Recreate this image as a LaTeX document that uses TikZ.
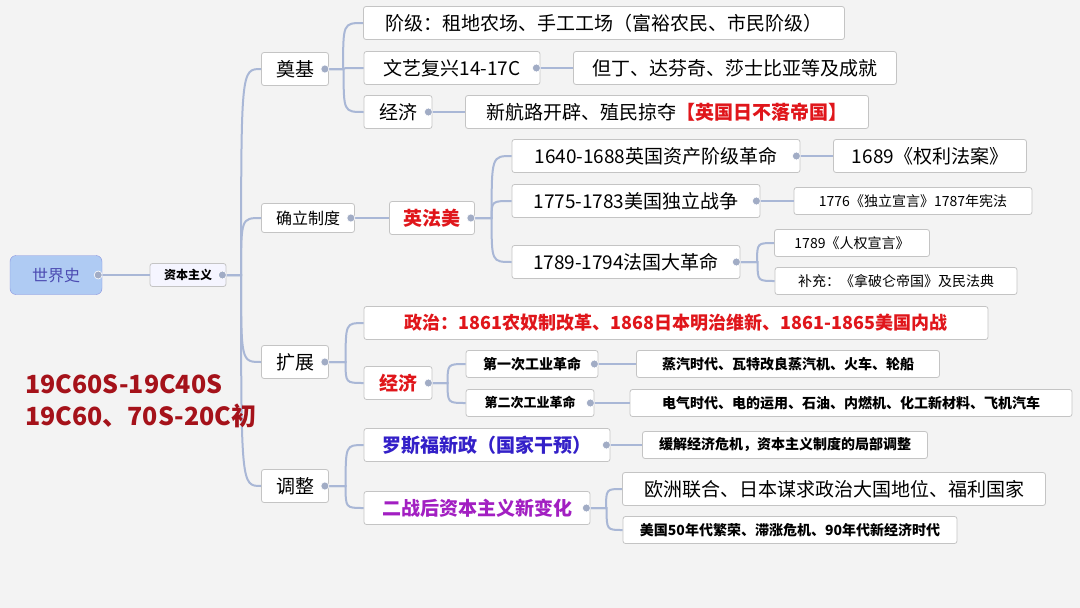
\documentclass[tikz,border=0pt]{standalone}
\usepackage{fontspec}
\setmainfont{Noto Sans CJK SC}
\usetikzlibrary{calc}
\definecolor{bg}{HTML}{F3F3F3}
\definecolor{bd}{HTML}{C4C4C4}
\definecolor{ln}{HTML}{A9B7D6}
\definecolor{rd}{HTML}{E0161B}
\definecolor{bl}{HTML}{3320C8}
\definecolor{pu}{HTML}{A21FC2}
\definecolor{dr}{HTML}{A5121A}
\definecolor{root}{HTML}{AFCBF3}
\tikzset{
 bx/.style n args={3}{draw=bd,fill=white,rounded corners=2.5pt,line width=0.8pt,minimum width=#1,minimum height=#2,inner sep=0pt,font=#3},
 big/.style={bx={#1}{33pt}{\fontsize{19}{22}\selectfont}},
 mid/.style={bx={#1}{29pt}{\fontsize{16}{19}\selectfont}},
 sm/.style={bx={#1}{27pt}{\fontsize{14}{17}\selectfont}},
 smb/.style={bx={#1}{27pt}{\fontsize{14}{17}\selectfont\bfseries}},
 conn/.style={draw=ln,line width=2pt},
 mn/.style={circle,fill=ln!80!gray,draw=white,line width=0.6pt,minimum size=8pt,inner sep=0pt},
}
\newcommand{\cn}[3]{\draw[conn] let \p1=(#1.east), \p2=(#2.west) in (\p1) -- (\x2-#3,\y1) .. controls (\x2-#3,\y2) .. (\p2);}
\begin{document}
\begin{tikzpicture}[x=1pt,y=-1pt]
\fill[bg] (0,0) rectangle (1080,608);
\useasboundingbox (0,0) rectangle (1080,608);
\node[draw=ln!80!blue,fill=root,rounded corners=6pt,minimum width=92pt,minimum height=39pt,inner sep=0pt,text=blue!40!gray,font=\fontsize{16}{19}\selectfont] (r) at (56,275) {世界史};
\node[bx={76pt}{23pt}{\fontsize{12}{14}\selectfont\bfseries},fill=blue!4] (zb) at (188,275) {资本主义};
\node[big=67pt] (dj) at (295,69) {奠基};
\node[mid=93pt] (ql) at (308,218) {确立制度};
\node[big=67pt] (kz) at (295,362) {扩展};
\node[big=67pt] (tz) at (295,486) {调整};
\node[big=481pt] (jj) at (604,23) {阶级：租地农场、手工工场（富裕农民、市民阶级）};
\node[big=176pt] (wy) at (452,68) {文艺复兴14-17C};
\node[big=323pt] (dd) at (735,68) {但丁、达芬奇、莎士比亚等及成就};
\node[big=68pt] (ji) at (398,112) {经济};
\node[big=403pt] (xh) at (667,112) {新航路开辟、殖民掠夺\textcolor{rd}{\bfseries【英国日不落帝国】}};
\node[big=85pt,text=rd,font=\fontsize{19}{22}\selectfont\bfseries] (yf) at (432,218) {英法美};
\node[big=288pt] (e1) at (656,156) {1640-1688英国资产阶级革命};
\node[big=193pt] (e1a) at (930,156) {1689《权利法案》};
\node[big=248pt] (e2) at (636,201) {1775-1783美国独立战争};
\node[sm=238pt] (e2a) at (913,201) {1776《独立宣言》1787年宪法};
\node[big=228pt] (e3) at (626,262) {1789-1794法国大革命};
\node[sm=155pt] (e3a) at (852,243) {1789《人权宣言》};
\node[sm=242pt] (e3b) at (896,281) {补充：《拿破仑帝国》及民法典};
\node[big=624pt,text=rd,font=\fontsize{18}{22}\selectfont\bfseries] (zz) at (676,323) {政治：1861农奴制改革、1868日本明治维新、1861-1865美国内战};
\node[big=68pt,text=rd,font=\fontsize{19}{22}\selectfont\bfseries] (jr) at (398,383) {经济};
\node[smb=132pt] (g1) at (532,364) {第一次工业革命};
\node[smb=303pt] (g1a) at (788,364) {蒸汽时代、瓦特改良蒸汽机、火车、轮船};
\node[bx={128pt}{27pt}{\fontsize{13}{16}\selectfont\bfseries}] (g2) at (530,403) {第二次工业革命};
\node[smb=442pt] (g2a) at (851,403) {电气时代、电的运用、石油、内燃机、化工新材料、飞机汽车};
\node[big=246pt,text=bl,font=\fontsize{19}{22}\selectfont\bfseries] (lsf) at (487,445) {罗斯福新政（国家干预）};
\node[smb=285pt] (lsfa) at (785,445) {缓解经济危机，资本主义制度的局部调整};
\node[big=226pt,text=pu,font=\fontsize{19}{22}\selectfont\bfseries] (ez) at (477,508) {二战后资本主义新变化};
\node[big=423pt] (eza) at (834,489) {欧洲联合、日本谋求政治大国地位、福利国家};
\node[smb=334pt] (ezb) at (790,530) {美国50年代繁荣、滞涨危机、90年代新经济时代};
\cn{r}{zb}{24}
\cn{zb}{dj}{20}\cn{zb}{ql}{20}\cn{zb}{kz}{20}\cn{zb}{tz}{20}
\cn{dj}{jj}{20}\cn{dj}{wy}{20}\cn{dj}{ji}{20}
\cn{wy}{dd}{20}\cn{ji}{xh}{20}
\cn{ql}{yf}{20}
\cn{yf}{e1}{20}\cn{yf}{e2}{20}\cn{yf}{e3}{20}
\cn{e1}{e1a}{17}\cn{e2}{e2a}{17}\cn{e3}{e3a}{17}\cn{e3}{e3b}{17}
\cn{kz}{zz}{18}\cn{kz}{jr}{18}
\cn{jr}{g1}{18}\cn{jr}{g2}{18}
\cn{g1}{g1a}{19}\cn{g2}{g2a}{19}
\cn{tz}{lsf}{18}\cn{tz}{ez}{18}
\cn{lsf}{lsfa}{16}
\cn{ez}{eza}{16}\cn{ez}{ezb}{16}
\foreach \n in {r,zb,dj,ql,kz,tz,wy,ji,yf,e1,e2,e3,jr,g1,g2,lsf,ez}{\node[mn] at ($(\n.east)+(-4,0)$) {};}
\node[anchor=west,text=dr,font=\fontsize{25}{32}\selectfont\bfseries,align=left,inner sep=0pt] (lbl) at (25,401) {19C60S-19C40S\\19C60、70S-20C初};
\end{tikzpicture}
\end{document}
